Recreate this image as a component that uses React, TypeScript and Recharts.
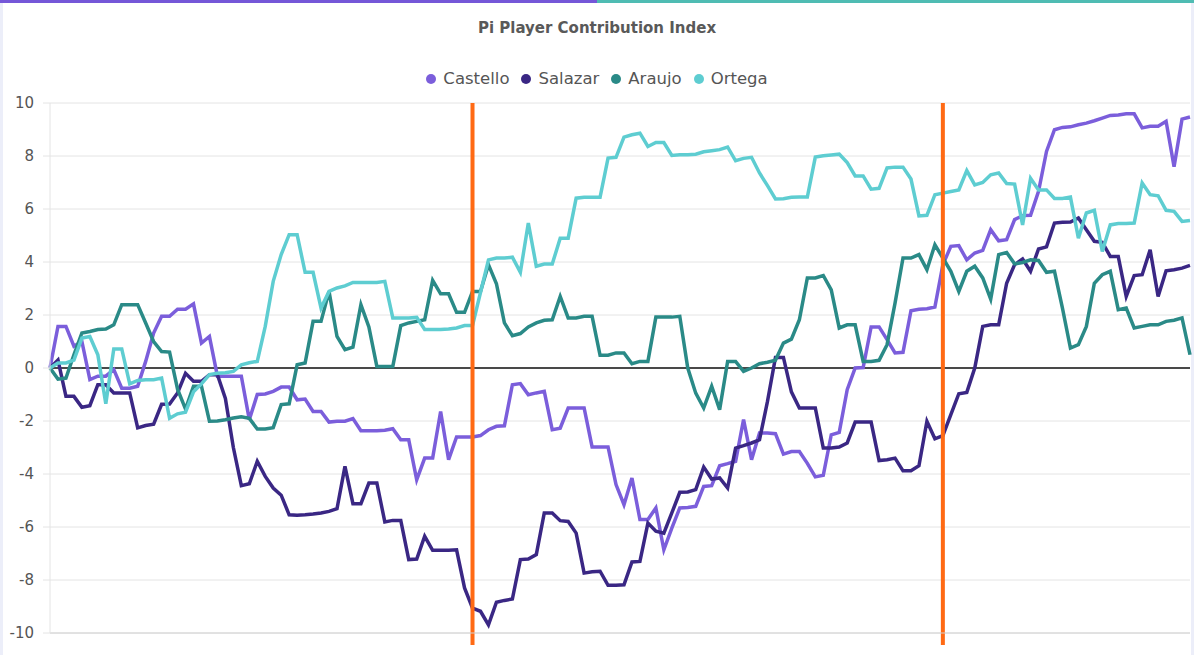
import React from 'react';
import { LineChart, Line, XAxis, YAxis, CartesianGrid, ReferenceLine } from 'recharts';

const castello = [
  0, 1.57, 1.57, 0.82, 1.0, -0.44, -0.31, -0.31, -0.06, -0.76,
  -0.76, -0.69, 0.25, 1.32, 1.95, 1.95, 2.22, 2.22, 2.42, 0.94,
  1.19, -0.31, -0.31, -0.31, -0.31, -1.95, -1.0, -0.98, -0.88, -0.72,
  -0.72, -1.2, -1.17, -1.64, -1.64, -2.04, -2.01, -2.01, -1.91, -2.37,
  -2.37, -2.37, -2.35, -2.29, -2.71, -2.71, -4.22, -3.4, -3.4, -1.64,
  -3.46, -2.6, -2.6, -2.6, -2.55, -2.33, -2.2, -2.18, -0.63, -0.59,
  -1.01, -0.94, -0.88, -2.33, -2.27, -1.51, -1.51, -1.51, -2.98, -2.98,
  -2.98, -4.4, -5.16, -4.15, -5.72, -5.72, -5.28, -6.86, -6.04, -5.28,
  -5.26, -5.22, -4.47, -4.44, -3.69, -3.61, -3.52, -1.95, -3.46, -2.45,
  -2.45, -2.48, -3.25, -3.15, -3.15, -3.6, -4.11, -4.05, -2.52, -2.43,
  -0.82, 0, 0.02, 1.55, 1.55, 1.07, 0.57, 0.59, 2.16, 2.22,
  2.24, 2.3, 3.9, 4.59, 4.62, 4.08, 4.34, 4.44, 5.22, 4.8,
  4.84, 5.6, 5.75, 5.76, 6.67, 8.17, 8.99, 9.08, 9.1, 9.18,
  9.24, 9.33, 9.43, 9.53, 9.55, 9.59, 9.59, 9.06, 9.12, 9.12,
  9.31, 7.6, 9.39, 9.47,
];

const salazar = [
  0, 0.3, -1.07, -1.07, -1.48, -1.42, -0.63, -0.63, -0.94, -0.94,
  -0.94, -2.26, -2.17, -2.12, -1.37, -1.36, -0.94, -0.2, -0.5, -0.5,
  -0.25, -0.25, -1.15, -3.0, -4.44, -4.37, -3.52, -4.09, -4.53, -4.8,
  -5.54, -5.56, -5.54, -5.51, -5.47, -5.41, -5.31, -3.71, -5.12, -5.12,
  -4.34, -4.34, -5.81, -5.75, -5.75, -7.23, -7.21, -6.35, -6.88, -6.88,
  -6.88, -6.86, -8.3, -9.06, -9.18, -9.69, -8.84, -8.77, -8.72, -7.23,
  -7.21, -7.04, -5.47, -5.47, -5.76, -5.79, -6.23, -7.74, -7.69, -7.67,
  -8.2, -8.2, -8.18, -7.32, -7.3, -5.85, -6.16, -6.23, -5.47, -4.69,
  -4.68, -4.59, -3.74, -4.19, -4.15, -4.53, -3.02, -2.93, -2.83, -2.71,
  -1.26, 0.4, 0.4, -0.9, -1.51, -1.51, -1.51, -3.02, -3.02, -2.98,
  -2.83, -2.04, -2.04, -2.04, -3.49, -3.46, -3.4, -3.88, -3.88, -3.69,
  -2.01, -2.67, -2.55, -1.76, -0.97, -0.92, 0, 1.57, 1.63, 1.63,
  3.2, 3.9, 4.11, 3.65, 4.49, 4.57, 5.47, 5.5, 5.51, 5.66,
  5.22, 4.78, 4.74, 4.21, 4.21, 2.7, 3.49, 3.52, 4.46, 2.7,
  3.67, 3.71, 3.77, 3.87,
];

const araujo = [
  0, -0.42, -0.38, 0.5, 1.32, 1.38, 1.45, 1.47, 1.63, 2.39,
  2.39, 2.39, 1.7, 1.0, 0.62, 0.6, -0.8, -1.55, -0.69, -0.69,
  -2.01, -2.0, -1.95, -1.89, -1.84, -1.9, -2.3, -2.3, -2.25, -1.38,
  -1.35, 0.12, 0.19, 1.76, 1.76, 2.89, 1.19, 0.69, 0.79, 2.39,
  1.55, 0.06, 0.06, 0.06, 1.6, 1.7, 1.76, 1.82, 3.31, 2.8,
  2.8, 2.1, 2.1, 2.89, 2.89, 3.9, 3.18, 1.7, 1.22, 1.3,
  1.55, 1.7, 1.8, 1.82, 2.7, 1.89, 1.89, 1.95, 1.95, 0.48,
  0.48, 0.57, 0.57, 0.16, 0.25, 0.25, 1.92, 1.92, 1.92, 1.95,
  0, -0.95, -1.51, -0.69, -1.57, 0.25, 0.25, -0.13, 0, 0.16,
  0.22, 0.29, 0.94, 1.09, 1.82, 3.4, 3.4, 3.49, 2.95, 1.51,
  1.63, 1.63, 0.25, 0.25, 0.29, 0.88, 2.45, 4.15, 4.15, 4.28,
  3.71, 4.65, 4.15, 3.65, 2.89, 3.65, 3.84, 3.4, 2.6, 4.28,
  4.36, 3.93, 3.98, 4.08, 4.06, 3.61, 3.65, 2.26, 0.75, 0.88,
  1.57, 3.2, 3.52, 3.65, 2.2, 2.26, 1.51, 1.57, 1.63, 1.63,
  1.76, 1.8, 1.89, 0.5,
];

const ortega = [
  0, 0.19, 0.19, 0.3, 1.13, 1.19, 0.5, -1.35, 0.72, 0.72,
  -0.6, -0.47, -0.44, -0.44, -0.38, -1.9, -1.73, -1.67, -0.9, -0.6,
  -0.25, -0.2, -0.18, -0.13, 0.12, 0.2, 0.25, 1.57, 3.27, 4.28,
  5.03, 5.03, 3.61, 3.61, 2.26, 2.89, 3.02, 3.1, 3.23, 3.23,
  3.23, 3.23, 3.27, 1.89, 1.89, 1.89, 1.91, 1.45, 1.45, 1.45,
  1.47, 1.51, 1.6, 1.6, 2.85, 4.08, 4.15, 4.15, 4.18, 3.61,
  5.47, 3.84, 3.92, 3.92, 4.9, 4.9, 6.41, 6.44, 6.44, 6.44,
  7.92, 7.95, 8.71, 8.8, 8.86, 8.36, 8.51, 8.51, 8.02, 8.05,
  8.05, 8.07, 8.16, 8.2, 8.24, 8.34, 7.82, 7.91, 7.95, 7.36,
  6.88, 6.38, 6.39, 6.44, 6.45, 6.45, 7.96, 8.01, 8.04, 8.07,
  7.75, 7.25, 7.25, 6.75, 6.78, 7.55, 7.58, 7.58, 7.13, 5.74,
  5.76, 6.54, 6.6, 6.66, 6.72, 7.45, 6.91, 7.0, 7.29, 7.36,
  6.96, 6.94, 5.4, 7.16, 6.72, 6.72, 6.4, 6.4, 6.45, 4.9,
  5.85, 5.95, 4.4, 5.4, 5.45, 5.45, 5.47, 6.98, 6.54, 6.5,
  5.95, 5.91, 5.53, 5.57,
];

const seriesNames = ['Castello', 'Salazar', 'Araujo', 'Ortega'];
const seriesColors = ['#7b5edb', '#3a2784', '#2a8a87', '#5ecdd1'];
const yTicks = [-10, -8, -6, -4, -2, 0, 2, 4, 6, 8, 10];
const eventIndexes = [53, 112];

const data = castello.map((v, i) => ({
  i,
  Castello: v,
  Salazar: salazar[i],
  Araujo: araujo[i],
  Ortega: ortega[i],
}));

const FONT = '"DejaVu Sans", Verdana, sans-serif';

// orange event markers run a little below the plot area
const EventLine = (props: any) => {
  const { x1, y1, x2, y2 } = props;
  const top = Math.min(y1, y2);
  const bottom = Math.max(y1, y2) + 12;
  return <line x1={x1} x2={x2} y1={top} y2={bottom} stroke="#ff6a14" strokeWidth={4} />;
};

const App: React.FC = () => {
  return (
    <div
      style={{
        position: 'absolute',
        left: 0,
        top: 0,
        width: 1194,
        height: 655,
        background: '#eceef9',
        overflow: 'hidden',
        fontFamily: FONT,
      }}
    >
      <div style={{ position: 'absolute', left: 3, top: 0, width: 1188, height: 655, background: '#fff' }} />
      <div
        style={{
          position: 'absolute',
          left: 0,
          top: 0,
          width: 1194,
          height: 3,
          background: 'linear-gradient(90deg, #7557d8 0%, #7557d8 50%, #4fbcb3 50%, #4fbcb3 100%)',
        }}
      />
      <div
        style={{
          position: 'absolute',
          top: 19,
          left: 0,
          width: 1194,
          textAlign: 'center',
          fontSize: 15,
          lineHeight: '18px',
          fontWeight: 'bold',
          color: '#595959',
        }}
      >
        Pi Player Contribution Index
      </div>
      <div
        style={{
          position: 'absolute',
          top: 69,
          left: 0,
          width: 1194,
          display: 'flex',
          justifyContent: 'center',
          fontSize: 16.5,
          lineHeight: '20px',
          color: '#555',
        }}
      >
        {seriesNames.map((name, k) => (
          <div key={name} style={{ display: 'flex', alignItems: 'center', marginRight: k < seriesNames.length - 1 ? 12 : 0 }}>
            <span
              style={{
                display: 'inline-block',
                width: 10,
                height: 10,
                borderRadius: 5,
                background: seriesColors[k],
                marginRight: 7,
              }}
            />
            <span>{name}</span>
          </div>
        ))}
      </div>
      <div style={{ position: 'absolute', left: 0, top: 0 }}>
        <LineChart width={1194} height={655} data={data} margin={{ top: 103, right: 4, bottom: 0, left: 0 }}>
          <CartesianGrid vertical={false} stroke="#e4e4e4" />
          <XAxis
            type="number"
            dataKey="i"
            domain={[0, 143]}
            tick={false}
            tickLine={false}
            axisLine={{ stroke: '#d2d2d2' }}
            height={22}
          />
          <YAxis
            domain={[-10, 10]}
            ticks={yTicks}
            interval={0}
            width={50}
            tickSize={7}
            tickMargin={9}
            tickLine={{ stroke: '#e4e4e4' }}
            axisLine={{ stroke: '#e4e4e4' }}
            tick={{ fontSize: 15, fill: '#555', fontFamily: FONT }}
          />
          <ReferenceLine y={0} stroke="#111" strokeWidth={1.3} />
          {seriesNames.map((name, k) => (
            <Line
              key={name}
              type="linear"
              dataKey={name}
              stroke={seriesColors[k]}
              strokeWidth={3.5}
              dot={false}
              isAnimationActive={false}
            />
          ))}
          {eventIndexes.map((idx) => (
            <ReferenceLine key={idx} x={idx} stroke="#ff6a14" strokeWidth={4} shape={EventLine} />
          ))}
        </LineChart>
      </div>
    </div>
  );
};

export default App;
